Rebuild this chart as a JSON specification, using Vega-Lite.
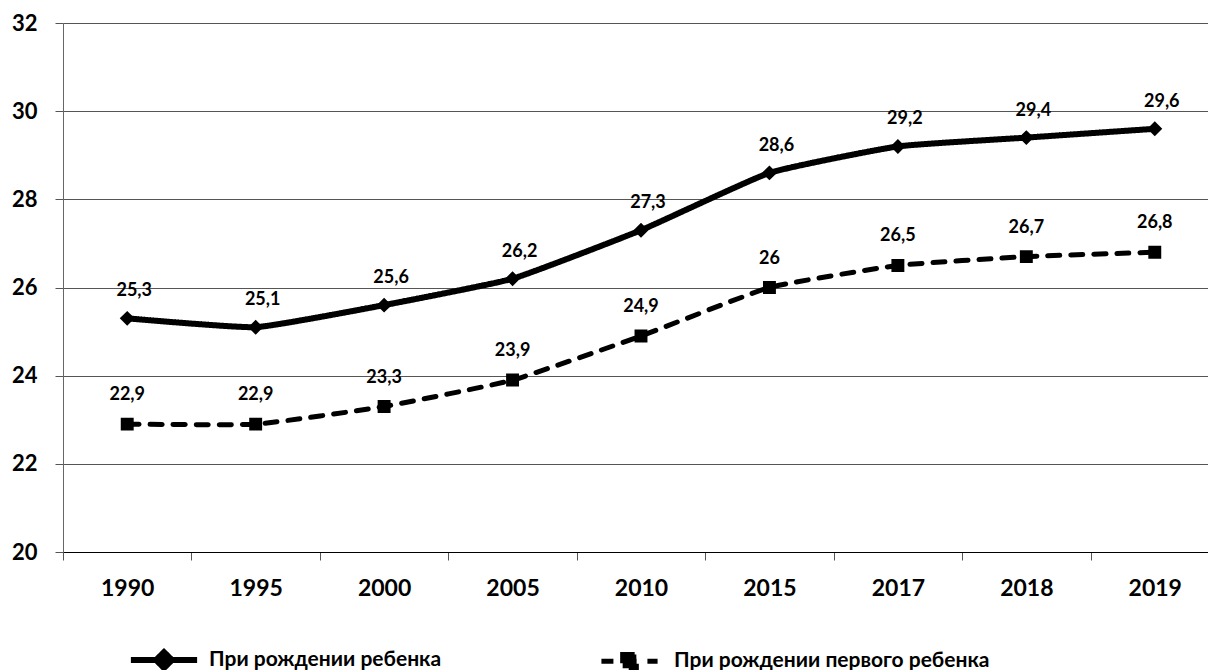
{
  "$schema": "https://vega.github.io/schema/vega-lite/v6.json",
  "width": 1145,
  "height": 529,
  "autosize": {"type": "none"},
  "padding": {"left": 63, "top": 23, "right": 0, "bottom": 118},
  "background": "white",
  "config": {
    "locale": {"number": {"decimal": ",", "thousands": " ", "grouping": [3], "currency": ["", ""]}},
    "font": "Lato",
    "view": {"stroke": null},
    "axis": {"labelFont": "Lato", "labelFontWeight": "bold", "labelColor": "black", "title": null}
  },
  "data": {
    "values": [
      {"year": "1990", "series": "При рождении ребенка", "value": 25.3},
      {"year": "1995", "series": "При рождении ребенка", "value": 25.1},
      {"year": "2000", "series": "При рождении ребенка", "value": 25.6},
      {"year": "2005", "series": "При рождении ребенка", "value": 26.2},
      {"year": "2010", "series": "При рождении ребенка", "value": 27.3},
      {"year": "2015", "series": "При рождении ребенка", "value": 28.6},
      {"year": "2017", "series": "При рождении ребенка", "value": 29.2},
      {"year": "2018", "series": "При рождении ребенка", "value": 29.4},
      {"year": "2019", "series": "При рождении ребенка", "value": 29.6},
      {"year": "1990", "series": "При рождении первого ребенка", "value": 22.9},
      {"year": "1995", "series": "При рождении первого ребенка", "value": 22.9},
      {"year": "2000", "series": "При рождении первого ребенка", "value": 23.3},
      {"year": "2005", "series": "При рождении первого ребенка", "value": 23.9},
      {"year": "2010", "series": "При рождении первого ребенка", "value": 24.9},
      {"year": "2015", "series": "При рождении первого ребенка", "value": 26},
      {"year": "2017", "series": "При рождении первого ребенка", "value": 26.5},
      {"year": "2018", "series": "При рождении первого ребенка", "value": 26.7},
      {"year": "2019", "series": "При рождении первого ребенка", "value": 26.8}
    ]
  },
  "encoding": {
    "x": {
      "field": "year",
      "type": "ordinal",
      "sort": null,
      "scale": {"type": "band", "range": [0, 1156], "paddingInner": 0, "paddingOuter": 0},
      "axis": {
        "labelAngle": 0,
        "labelFontSize": 23,
        "labelPadding": 17,
        "tickBand": "extent",
        "tickSize": 8,
        "tickColor": "#555555",
        "domainColor": "#000000",
        "grid": false
      }
    },
    "y": {
      "field": "value",
      "type": "quantitative",
      "scale": {"domain": [20, 32], "nice": false, "zero": false},
      "axis": {
        "values": [20, 22, 24, 26, 28, 30, 32],
        "format": "d",
        "labelFontSize": 22,
        "labelPadding": 18,
        "tickSize": 8,
        "tickColor": "#555555",
        "domainColor": "#666666",
        "grid": true,
        "gridColor": "#555555",
        "gridWidth": 1
      }
    }
  },
  "layer": [
    {
      "mark": {"type": "line", "color": "black", "interpolate": "cardinal", "tension": 0.6, "strokeCap": "round", "strokeJoin": "round"},
      "encoding": {
        "strokeWidth": {
          "field": "series",
          "type": "nominal",
          "scale": {"type": "ordinal", "domain": ["При рождении ребенка", "При рождении первого ребенка"], "range": [6, 5]},
          "legend": null
        },
        "strokeDash": {
          "field": "series",
          "type": "nominal",
          "scale": {"domain": ["При рождении ребенка", "При рождении первого ребенка"], "range": [[1, 0], [12, 11]]},
          "legend": {
            "title": null,
            "orient": "none",
            "direction": "horizontal",
            "legendX": 62,
            "legendY": 598,
            "padding": 0,
            "symbolSize": 5184,
            "symbolFillColor": "black",
            "symbolStrokeColor": "black",
            "symbolStrokeWidth": 6,
            "labelFont": "Lato",
            "labelFontSize": 21,
            "labelFontWeight": "bold",
            "labelColor": "black",
            "labelLimit": 0,
            "labelOffset": 6,
            "columnPadding": 149
          }
        }
      }
    },
    {
      "mark": {"type": "point", "filled": true, "fill": "black", "stroke": "black", "strokeWidth": 0, "size": 4624, "opacity": 1},
      "encoding": {
        "shape": {
          "field": "series",
          "type": "nominal",
          "scale": {
            "domain": ["При рождении ребенка", "При рождении первого ребенка"],
            "range": [
              "M-0.92,0H0.92M0,-0.22L0.22,0L0,0.22L-0.22,0Z",
              "M-0.78,0H0.78M-0.19,-0.19H0.19V0.19H-0.19Z"
            ]
          }
        }
      }
    },
    {
      "transform": [{"filter": "datum.series === 'При рождении ребенка'"}],
      "mark": {"type": "text", "dy": -27, "dx": 7, "font": "Lato", "fontSize": 18, "fontWeight": "bold", "color": "black"},
      "encoding": {"text": {"field": "value", "type": "quantitative", "format": "~g"}}
    },
    {
      "transform": [{"filter": "datum.series === 'При рождении первого ребенка'"}],
      "mark": {"type": "text", "dy": -29, "font": "Lato", "fontSize": 18, "fontWeight": "bold", "color": "black"},
      "encoding": {"text": {"field": "value", "type": "quantitative", "format": "~g"}}
    }
  ]
}
